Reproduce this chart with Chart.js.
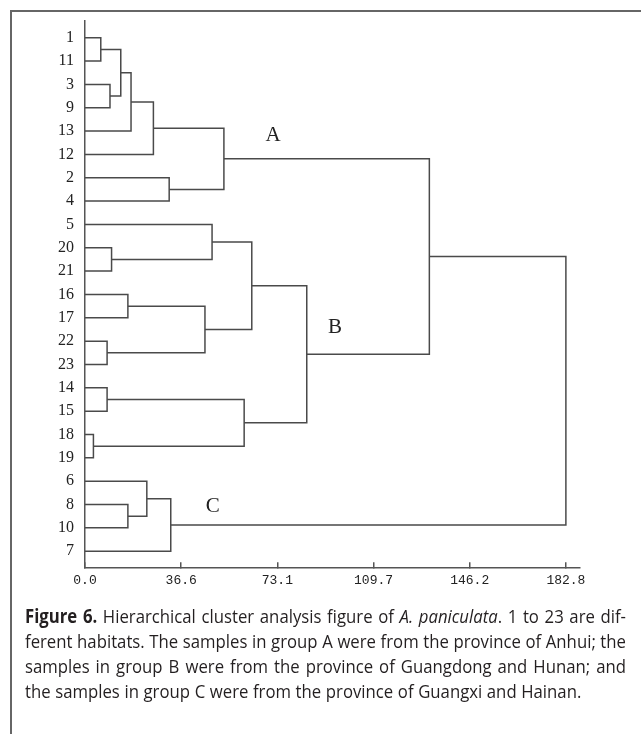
<!DOCTYPE html>
<html>
<head>
<meta charset="utf-8">
<script src="https://cdn.jsdelivr.net/npm/chart.js@4"></script>
<style>
  html, body { margin: 0; padding: 0; background: #fff; }
  canvas { display: block; }
</style>
</head>
<body>
<canvas id="chart" width="641" height="734"></canvas>
<script>
// leaves, top to bottom
const leafOrder = ['1','11','3','9','13','12','2','4','5','20','21','16','17','22','23','14','15','18','19','6','8','10','7'];

// merges: [left, right, height]. numbers point to an earlier merge, strings are leaves
const merges = [
  ['1', '11', 6.0],
  ['3', '9', 9.5],
  [0, 1, 13.6],
  [2, '13', 17.5],
  [3, '12', 26.0],
  ['2', '4', 32.0],
  [4, 5, 52.8],      // A
  ['20', '21', 10.1],
  ['5', 7, 48.3],
  ['16', '17', 16.3],
  ['22', '23', 8.4],
  [9, 10, 45.6],
  [8, 11, 63.4],
  ['14', '15', 8.4],
  ['18', '19', 3.2],
  [13, 14, 60.5],
  [12, 15, 84.3],    // B
  [6, 16, 130.9],
  ['8', '10', 16.3],
  ['6', 18, 23.5],
  [19, '7', 32.6],   // C
  [17, 20, 182.8]
];

const xTicks = [0, 36.56, 73.12, 109.68, 146.24, 182.8];
const xTickLabels = ['0.0', '36.6', '73.1', '109.7', '146.2', '182.8'];

const groupNames = ['A', 'B', 'C'];
const groupX = [71.5, 95, 48.6];
const groupY = [4.2, 12.4, 20.1];

const captionLines = [
  [['Figure 6.', 'b'], [' Hierarchical cluster analysis figure of ', 'n'], ['A. paniculata', 'i'], ['. 1 to 23 are dif-', 'n']],
  [['ferent habitats. The samples in group A were from the province of Anhui; the', 'n']],
  [['samples in group B were from the province of Guangdong and Hunan; and', 'n']],
  [['the samples in group C were from the province of Guangxi and Hainan.', 'n']]
];

const lineColor = '#4a4a4a';

// build the U shaped links
const nodeY = [];
const yOf = (r) => typeof r === 'string' ? leafOrder.indexOf(r) : nodeY[r];
const hOf = (r) => typeof r === 'string' ? 0 : merges[r][2];
const datasets = merges.map(([a, b, h], i) => {
  const ya = yOf(a), yb = yOf(b);
  nodeY[i] = (ya + yb) / 2;
  return {
    data: [{x: hOf(a), y: ya}, {x: h, y: ya}, {x: h, y: yb}, {x: hOf(b), y: yb}],
    showLine: true,
    borderColor: lineColor,
    borderWidth: 1.5,
    pointRadius: 0,
    fill: false,
    tension: 0
  };
});

const capFont = (s) => (s === 'b' ? 'bold ' : s === 'i' ? 'italic ' : '') + '19px "Open Sans", sans-serif';

function lineWords(runs) {
  const words = [[]];
  runs.forEach(([text, style]) => {
    text.split(/( )/).forEach(part => {
      if (part === ' ') { if (words[words.length - 1].length) words.push([]); }
      else if (part) words[words.length - 1].push([part, style]);
    });
  });
  return words.filter(w => w.length);
}

const extras = {
  id: 'extras',
  beforeDraw(chart) {
    const ctx = chart.ctx;
    ctx.save();
    ctx.strokeStyle = '#666';
    ctx.lineWidth = 2;
    ctx.beginPath();
    ctx.moveTo(11, 734);
    ctx.lineTo(11, 11);
    ctx.lineTo(641, 11);
    ctx.stroke();
    ctx.restore();
  },
  afterDraw(chart) {
    const ctx = chart.ctx;
    const xs = chart.scales.x, ys = chart.scales.y;
    ctx.save();
    // group letters
    ctx.fillStyle = '#222';
    ctx.font = '21px "Liberation Serif", serif';
    ctx.textAlign = 'center';
    ctx.textBaseline = 'middle';
    groupNames.forEach((g, i) => ctx.fillText(g, xs.getPixelForValue(groupX[i]), ys.getPixelForValue(groupY[i])));

    // caption, justified except the last line
    ctx.textAlign = 'left';
    ctx.textBaseline = 'alphabetic';
    ctx.fillStyle = '#231f20';
    const left = 25, fullW = 601, space = 4.6;
    const baselines = [623, 648, 673, 698];
    const measure = (w) => w.reduce((s, [t, st]) => { ctx.font = capFont(st); return s + ctx.measureText(t).width; }, 0);
    const lines = captionLines.map(lineWords);
    const ref = lines[1];
    const refSum = ref.reduce((s, w) => s + measure(w), 0);
    const sx = (fullW - space * (ref.length - 1)) / refSum;
    lines.forEach((words, li) => {
      const sumW = words.reduce((s, w) => s + measure(w), 0);
      const gap = li === lines.length - 1 ? space : (fullW - sumW * sx) / (words.length - 1);
      let x = left;
      words.forEach(w => {
        w.forEach(([t, st]) => {
          ctx.font = capFont(st);
          const tw = ctx.measureText(t).width;
          ctx.save();
          ctx.translate(x, baselines[li]);
          ctx.scale(sx, 1);
          ctx.fillText(t, 0, 0);
          ctx.restore();
          x += tw * sx;
        });
        x += gap;
      });
    });
    ctx.restore();
  }
};

new Chart('chart', {
  type: 'scatter',
  data: { datasets: datasets },
  options: {
    responsive: false,
    animation: false,
    devicePixelRatio: 1,
    layout: { padding: { left: 0, top: 15, right: 61.7, bottom: 136.7 } },
    plugins: { legend: { display: false }, tooltip: { enabled: false } },
    scales: {
      x: {
        type: 'linear',
        min: 0,
        max: 187.9,
        afterBuildTicks: (scale) => { scale.ticks = xTicks.map(v => ({ value: v })); },
        afterFit: (scale) => { scale.height = 30; },
        ticks: {
          autoSkip: false,
          maxRotation: 0,
          padding: 10,
          color: '#222',
          font: { family: '"Liberation Mono", monospace', size: 13 },
          callback: (v, i) => xTickLabels[i]
        },
        grid: { display: true, drawOnChartArea: false, drawTicks: true, tickLength: -5, color: '#555', lineWidth: 1.5 },
        border: { display: true, color: '#555', width: 1.5 }
      },
      y: {
        type: 'linear',
        reverse: true,
        min: -0.734,
        max: 22.69,
        afterBuildTicks: (scale) => { scale.ticks = leafOrder.map((_, i) => ({ value: i })); },
        afterFit: (scale) => { scale.width = 85; },
        ticks: {
          autoSkip: false,
          padding: 11,
          color: '#222',
          font: { family: '"Liberation Serif", serif', size: 16 },
          callback: (v, i) => leafOrder[i]
        },
        grid: { display: false, drawTicks: false },
        border: { display: true, color: '#555', width: 1.5 }
      }
    }
  },
  plugins: [extras]
});
</script>
</body>
</html>
